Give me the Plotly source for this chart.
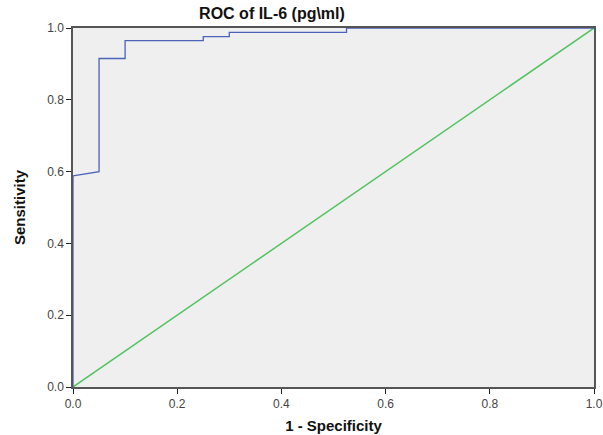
import plotly.graph_objects as go

fpr = [0.0, 0.0, 0.05, 0.05, 0.1, 0.1, 0.25, 0.25, 0.3, 0.3, 0.525, 0.525, 1.0]
tpr = [0.0, 0.588, 0.6, 0.915, 0.915, 0.965, 0.965, 0.976, 0.976, 0.988, 0.988, 1.0, 1.0]
ref_x = [0.0, 1.0]
ref_y = [0.0, 1.0]
ticks = [0.0, 0.2, 0.4, 0.6, 0.8, 1.0]

fig = go.Figure()
fig.add_trace(go.Scatter(x=ref_x, y=ref_y, mode="lines",
                         line=dict(color="#52c460", width=1.5), showlegend=False))
fig.add_trace(go.Scatter(x=fpr, y=tpr, mode="lines",
                         line=dict(color="#4a62b8", width=1.3), showlegend=False))

axis_common = dict(range=[0, 1], tickvals=ticks, tickformat=".1f",
                   ticks="outside", ticklen=5, tickcolor="#222",
                   showgrid=False, zeroline=False, showline=True,
                   linecolor="#555", linewidth=1.5, mirror=True, automargin=False,
                   tickfont=dict(family="Arial, Liberation Sans", size=12, color="#444"))

fig.update_layout(
    width=603, height=435,
    margin=dict(l=73, r=9, t=28, b=48),
    paper_bgcolor="white", plot_bgcolor="#efefef",
    title=dict(text="<b>ROC of IL-6 (pg\\ml)</b>", x=272/603, xanchor="center",
               y=1 - 13/435, yanchor="middle",
               font=dict(family="Arial, Liberation Sans", size=16, color="#111")),
    xaxis=dict(axis_common, title=dict(text="<b>1 - Specificity</b>", standoff=10,
               font=dict(family="Arial, Liberation Sans", size=15, color="#111"))),
    yaxis=dict(axis_common, title=dict(text="<b>Sensitivity</b>", standoff=18,
               font=dict(family="Arial Narrow, Liberation Sans Narrow, Arial", size=15, color="#111"))),
)
fig.write_html("out.html")
